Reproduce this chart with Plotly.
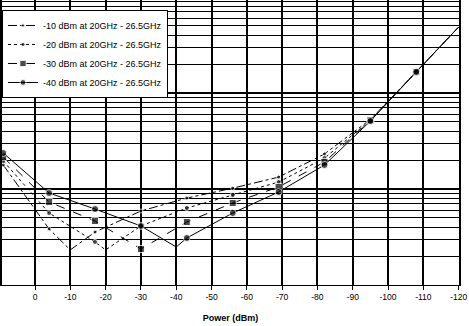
import plotly.graph_objects as go

# ---- data ----
marker_levels = [9, -4, -17, -30, -43, -56, -69, -82, -95, -108]

names = ["-10 dBm at 20GHz - 26.5GHz", "-20 dBm at 20GHz - 26.5GHz",
         "-30 dBm at 20GHz - 26.5GHz", "-40 dBm at 20GHz - 26.5GHz"]

x_m10 = [9, -4, -10, -17, -30, -43, -56, -69, -82, -95, -108, -120]
y_m10 = [0.178, 0.0383, 0.0232, 0.0356, 0.0590, 0.0805, 0.102, 0.133, 0.232, 0.53, 1.66, 4.87]

x_m20 = [9, -4, -17, -20, -30, -43, -56, -69, -82, -95, -108, -120]
y_m20 = [0.196, 0.0562, 0.0281, 0.0232, 0.0412, 0.0634, 0.0866, 0.118, 0.210, 0.52, 1.66, 4.87]

x_m30 = [9, -4, -17, -30, -43, -56, -69, -82, -95, -108, -120]
y_m30 = [0.215, 0.0733, 0.0464, 0.0237, 0.0453, 0.0715, 0.105, 0.191, 0.52, 1.66, 4.87]

x_m40 = [9, -4, -17, -30, -40, -43, -56, -69, -82, -95, -108, -120]
y_m40 = [0.237, 0.0908, 0.0619, 0.0412, 0.0249, 0.0309, 0.0562, 0.0931, 0.178, 0.51, 1.66, 4.87]

x_ticks = [0, -10, -20, -30, -40, -50, -60, -70, -80, -90, -100, -110, -120]
x_tick_text = ["0", "-10", "-20", "-30", "-40", "-50", "-60", "-70", "-80", "-90", "-100", "-110", "-120"]

# ---- styles ----
styles = [
    dict(dash="dashdot", symbol="circle", size=4),
    dict(dash="dot", symbol="circle", size=5),
    dict(dash="dash", symbol="square", size=7),
    dict(dash="solid", symbol="circle", size=7),
]

fig = go.Figure()
for name, xs, ys, st in zip(names, [x_m10, x_m20, x_m30, x_m40],
                            [y_m10, y_m20, y_m30, y_m40], styles):
    sizes = [st["size"] if x in marker_levels else 0 for x in xs]
    fig.add_trace(go.Scatter(
        x=xs, y=ys, name=name, mode="lines+markers",
        line=dict(color="black", width=1, dash=st["dash"]),
        marker=dict(color="black", symbol=st["symbol"], size=sizes),
        cliponaxis=True,
    ))

major = [0.01, 0.1, 1]
minor = []
for d in [0.01, 0.1, 1]:
    for k in range(2, 10):
        minor.append(d * k)

fig.update_layout(
    width=469, height=326,
    margin=dict(l=2, r=10, t=0, b=41),
    paper_bgcolor="white", plot_bgcolor="white",
    font=dict(family="Liberation Sans, Arial, sans-serif", size=9, color="black"),
    showlegend=True,
    legend=dict(
        x=0.0, y=0.965, xanchor="left", yanchor="top",
        bgcolor="white", bordercolor="black", borderwidth=1,
        font=dict(size=9), tracegroupgap=0, itemwidth=30,
    ),
    xaxis=dict(
        range=[9.35, -120.1], automargin=False,
        tickvals=x_ticks, ticktext=x_tick_text,
        showgrid=True, gridcolor="black", gridwidth=1.5,
        zeroline=False,
        showline=True, linecolor="black", linewidth=1, mirror=True,
        ticks="outside", ticklen=4, tickcolor="black",
        tickfont=dict(size=8.5),
        title=dict(text="<b>Power (dBm)</b>", font=dict(size=9), standoff=13),
    ),
    yaxis=dict(
        type="log", range=[-2, 0.969], automargin=False,
        tickvals=major, showticklabels=False,
        showgrid=True, gridcolor="black", gridwidth=1.5,
        showline=True, linecolor="black", linewidth=2, mirror=True,
        zeroline=False, ticks="",
        minor=dict(tickvals=minor, showgrid=True, gridcolor="black", gridwidth=1, ticks=""),
    ),
)

fig.write_html("out.html", config={"displayModeBar": False},
               post_script="document.body.style.margin='0';")
